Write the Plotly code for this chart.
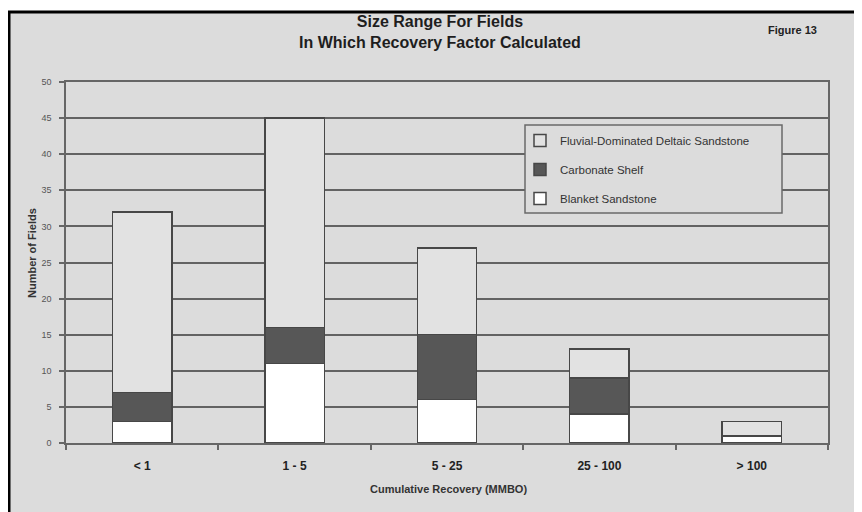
import plotly.graph_objects as go

categories = ["< 1", "1 - 5", "5 - 25", "25 - 100", "> 100"]
blanket = [3, 11, 6, 4, 1]
carbonate = [4, 5, 9, 5, 0]
fluvial = [25, 29, 12, 4, 2]
series_names = ["Blanket Sandstone", "Carbonate Shelf", "Fluvial-Dominated Deltaic Sandstone"]
series_colors = ["#ffffff", "#575757", "#e2e2e2"]
legend_ranks = [3, 2, 1]
y_ticks = [0, 5, 10, 15, 20, 25, 30, 35, 40, 45, 50]

OFF = 8  # page body margin
W, H = 862, 512
L, R, T, B = 66 - OFF, 828 - OFF, 82 - OFF, 443 - OFF  # plot area in figure pixels
BG = "#dcdcdc"

def px(xp):
    return (xp - OFF - L) / (R - L)

def py(yp):
    return (B - (yp - OFF)) / (B - T)

fig = go.Figure()
for name, vals, col, rk in zip(series_names, [blanket, carbonate, fluvial], series_colors, legend_ranks):
    fig.add_trace(go.Bar(
        x=categories, y=vals, name=name, legendgroup=name, legendrank=rk,
        marker=dict(color=col, line=dict(color="#474747", width=1.5)),
        width=0.39,
    ))

fig.update_layout(
    width=W, height=H,
    barmode="stack",
    paper_bgcolor="white",
    plot_bgcolor="rgba(0,0,0,0)",
    margin=dict(l=L, r=W - R, t=T, b=H - B, pad=0),
    font=dict(family="Liberation Sans, Arial, sans-serif", color="#222"),
    showlegend=True,
    legend=dict(
        x=px(520), y=py(126), xanchor="left", yanchor="top",
        bgcolor="rgba(0,0,0,0)", borderwidth=0,
        traceorder="grouped", tracegroupgap=10,
        font=dict(size=11.5, color="#333"), itemwidth=30,
    ),
    xaxis=dict(
        showgrid=False, showline=True, linecolor="#666", linewidth=1.5, mirror=True,
        ticks="outside", tickson="boundaries", ticklen=5, tickcolor="#666", tickwidth=1.5,
        tickfont=dict(size=12, color="#222", family="Liberation Sans, Arial", weight="bold"),
        ticklabelstandoff=11,
        zeroline=False,
    ),
    yaxis=dict(
        range=[0, 50], tickvals=y_ticks, showgrid=True, gridcolor="#636363", gridwidth=1.5,
        showline=True, linecolor="#666", linewidth=1.5, mirror=True,
        ticks="outside", ticklen=5, tickcolor="#666", tickwidth=1.5,
        tickfont=dict(size=9, color="#555"), zeroline=False, ticklabelstandoff=6,
    ),
    shapes=[
        dict(type="rect", xref="paper", yref="paper", layer="below",
             x0=px(9), x1=px(880), y0=py(530), y1=py(12),
             fillcolor=BG, line=dict(color="black", width=3)),
        dict(type="rect", xref="paper", yref="paper", layer="above",
             x0=px(525), x1=px(782), y0=py(213), y1=py(125),
             fillcolor=BG, line=dict(color="#6a6a6a", width=1.5)),
    ],
    annotations=[
        dict(text="<b>Size Range For Fields<br>In Which Recovery Factor Calculated</b>",
             xref="paper", yref="paper", x=px(440), y=py(32), showarrow=False,
             font=dict(size=16, color="#1e1e1e"), xanchor="center", yanchor="middle"),
        dict(text="<b>Figure 13</b>", xref="paper", yref="paper", x=px(792), y=py(30),
             showarrow=False, font=dict(size=11, color="#222"), xanchor="center", yanchor="middle"),
        dict(text="<b>Number of Fields</b>", xref="paper", yref="paper", x=px(32), y=py(253),
             showarrow=False, textangle=-90, font=dict(size=11, color="#333"),
             xanchor="center", yanchor="middle"),
        dict(text="<b>Cumulative Recovery (MMBO)</b>", xref="paper", yref="paper", x=px(448), y=py(489),
             showarrow=False, font=dict(size=11, color="#333"), xanchor="center", yanchor="middle"),
    ],
)

fig.write_html("out.html")
